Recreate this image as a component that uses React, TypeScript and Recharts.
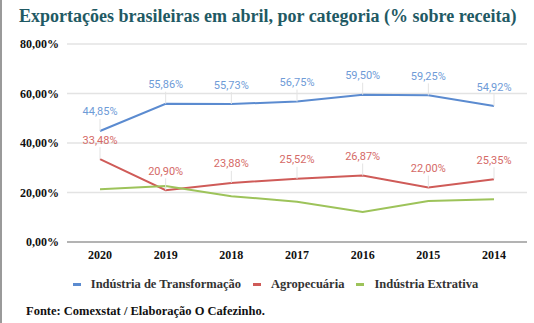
import { LineChart, Line, XAxis, YAxis, CartesianGrid, Legend } from "recharts";

const anos = ["2020", "2019", "2018", "2017", "2016", "2015", "2014"];
const transformacao = [44.85, 55.86, 55.73, 56.75, 59.5, 59.25, 54.92];
const agropecuaria = [33.48, 20.9, 23.88, 25.52, 26.87, 22.0, 25.35];
const extrativa = [21.3, 22.6, 18.5, 16.3, 12.1, 16.6, 17.3];
const yTicks = [0, 20, 40, 60, 80];

const series = [
  { key: "transformacao", name: "Indústria de Transformação", color: "#5b8bd0", label: "#6e9bd7" },
  { key: "agropecuaria", name: "Agropecuária", color: "#cf5b58", label: "#d56a67" },
  { key: "extrativa", name: "Indústria Extrativa", color: "#9dc35a", label: null },
];

const data = anos.map((ano, i) => ({
  ano,
  transformacao: transformacao[i],
  agropecuaria: agropecuaria[i],
  extrativa: extrativa[i],
}));

const pct = (v: number) => v.toFixed(2).replace(".", ",") + "%";

const serif = "'Liberation Serif', 'DejaVu Serif', serif";

function makeLabel(color: string) {
  return (props: any) => {
    const { x, y, value } = props;
    return (
      <g>
        <line x1={x} y1={y - 12} x2={x} y2={y} stroke="#e3e3e3" strokeWidth={1} />
        <text
          x={x}
          y={y - 19}
          textAnchor="middle"
          dominantBaseline="central"
          fill={color}
          fontSize={11}
          fontFamily="Roboto, sans-serif"
        >
          {pct(value)}
        </text>
      </g>
    );
  };
}

function LegendContent() {
  return (
    <div style={{ display: "flex", justifyContent: "center", alignItems: "center", paddingLeft: 36, paddingTop: 7 }}>
      {series.map((s) => (
        <div key={s.key} style={{ display: "flex", alignItems: "center", marginRight: 12 }}>
          <span style={{ display: "inline-block", width: 8, height: 3, background: s.color, marginRight: 10 }} />
          <span style={{ fontFamily: serif, fontWeight: "bold", fontSize: 12.5, color: "#333" }}>{s.name}</span>
        </div>
      ))}
    </div>
  );
}

export default function App() {
  return (
    <div
      style={{
        position: "absolute",
        left: 0,
        top: 0,
        width: 534,
        height: 323,
        background: "#fff",
        borderLeft: "2px solid #9a9a9a",
        boxSizing: "border-box",
      }}
    >
      <div
        style={{
          position: "absolute",
          left: 17,
          top: 6,
          fontFamily: serif,
          fontWeight: "bold",
          fontSize: 18,
          color: "#1f5a64",
          whiteSpace: "nowrap",
        }}
      >
        Exportações brasileiras em abril, por categoria (% sobre receita)
      </div>
      <div style={{ position: "absolute", left: -2, top: 0 }}>
        <LineChart width={536} height={300} data={data} margin={{ top: 44, right: 9, left: 0, bottom: 0 }}>
          <CartesianGrid vertical={false} stroke="#e3e3e3" strokeWidth={1.5} />
          <XAxis
            dataKey="ano"
            height={28}
            padding={{ left: 33, right: 33 }}
            tickLine={false}
            axisLine={{ stroke: "#a0a0a0", strokeWidth: 1.5 }}
            tick={{ fill: "#111", fontSize: 12, fontFamily: serif, fontWeight: "bold" }}
          />
          <YAxis
            width={67}
            domain={[0, 80]}
            ticks={yTicks}
            tickFormatter={pct}
            tickLine={false}
            axisLine={false}
            tick={{ fill: "#111", fontSize: 12, fontFamily: serif, fontWeight: "bold" }}
          />
          <Legend verticalAlign="bottom" height={30} content={<LegendContent />} />
          {series.map((s) => (
            <Line
              key={s.key}
              type="linear"
              dataKey={s.key}
              name={s.name}
              stroke={s.color}
              strokeWidth={2}
              dot={false}
              activeDot={false}
              isAnimationActive={false}
              label={s.label ? makeLabel(s.label) : undefined}
            />
          ))}
        </LineChart>
      </div>
      <div
        style={{
          position: "absolute",
          left: 24,
          top: 304,
          fontFamily: serif,
          fontWeight: "bold",
          fontSize: 12.5,
          color: "#111",
          whiteSpace: "nowrap",
        }}
      >
        Fonte: Comexstat / Elaboração O Cafezinho.
      </div>
    </div>
  );
}
